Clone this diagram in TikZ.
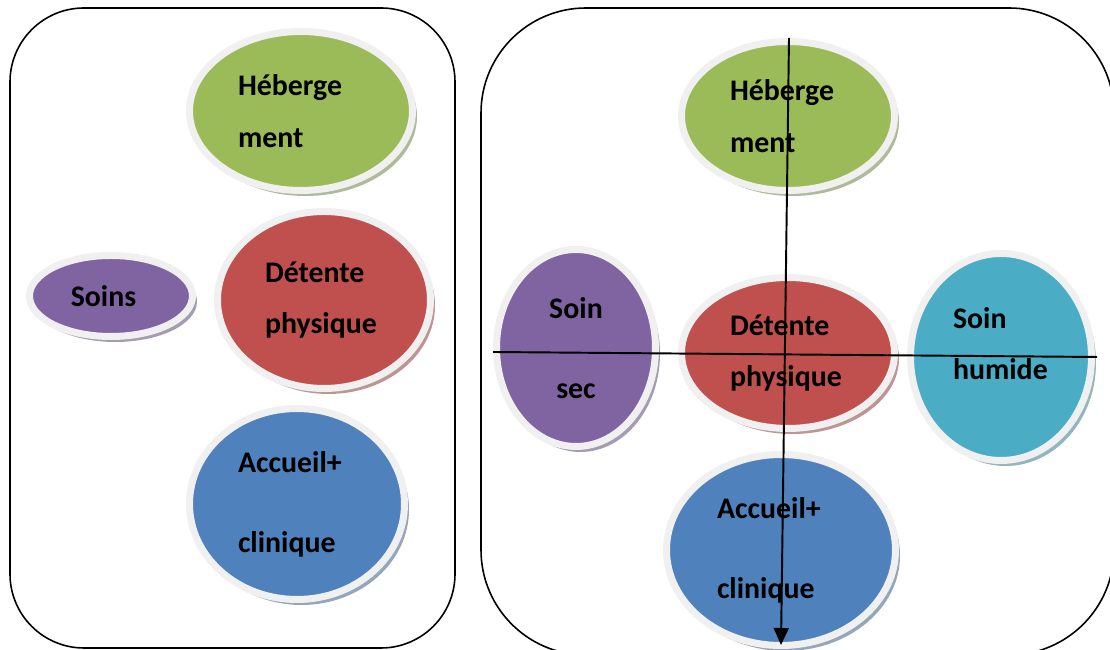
\documentclass[tikz,border=0pt]{standalone}
\usepackage{fontspec}
\setmainfont{Carlito}
\usetikzlibrary{arrows.meta,shapes.geometric,shadows}
\definecolor{vertclair}{HTML}{9BBB59}
\definecolor{rougebrique}{HTML}{C0504D}
\definecolor{mauve}{HTML}{8064A2}
\definecolor{cyanfonce}{HTML}{4BACC6}
\definecolor{bleuacier}{HTML}{4F81BD}
\tikzset{
  cadre/.style={draw=black, line width=0.9pt, rounded corners=#1},
  bulle/.style={ellipse, fill=#1, draw=black!6, line width=0.14cm, inner sep=0pt, align=left,
    font=\fontsize{17}{29.5}\selectfont\bfseries,
    drop shadow={shadow xshift=0.09cm, shadow yshift=-0.11cm, fill=#1!50!gray, opacity=0.7}},
  axe/.style={draw=black, line width=1.1pt}
}

\begin{document}
\begin{tikzpicture}
  \useasboundingbox (0,0) rectangle (22.2,13);
  % les deux cadres
  \draw[cadre=1.48cm] (0.2,0.04) rectangle (9.1,12.84);
  \draw[cadre=2.1cm] (9.62,-0.1) rectangle (22.28,12.84);

  % cadre de gauche
  \node[bulle=vertclair, minimum width=4.46cm, minimum height=3.18cm, text width=2.52cm] (hebG) at (6.02,10.78) {Héberge\\ment};
  \node[bulle=mauve, minimum width=3.26cm, minimum height=1.62cm, align=center] (soinsG) at (2.22,7.08) {Soins\hspace*{0.3cm}};
  \node[bulle=rougebrique, minimum width=4.26cm, minimum height=3.54cm, text width=2.36cm] (detG) at (6.48,7.0) {Détente\\physique};
  \node[bulle=bleuacier, minimum width=4.30cm, minimum height=3.82cm, text width=2.36cm] (accG) at (5.94,2.92) {Accueil+\\[0.56cm]clinique};

  % cadre de droite
  \node[bulle=vertclair, minimum width=4.26cm, minimum height=2.98cm, text width=2.32cm] (hebD) at (15.76,10.68) {Héberge\\ment};
  \node[bulle=mauve, minimum width=3.18cm, minimum height=3.94cm, align=center] (secD) at (11.52,6.04) {Soin\\[0.56cm]sec};
  \node[bulle=rougebrique, minimum width=4.26cm, minimum height=3.02cm, text width=2.32cm] (detD) at (15.76,5.94) {Détente\\physique};
  \node[bulle=cyanfonce, minimum width=3.62cm, minimum height=4.14cm, text width=1.92cm] (humD) at (20.02,5.86) {Soin\\humide\\[-0.5cm]\mbox{}};
  \node[bulle=bleuacier, minimum width=4.58cm, minimum height=3.82cm, text width=2.56cm] (accD) at (15.62,2.0) {Accueil+\\[0.56cm]clinique};

  % axes
  \coordinate (axeH) at (15.78,12.24);
  \coordinate (axeB) at (15.62,0.10);
  \coordinate (axeG) at (9.86,5.96);
  \coordinate (axeD) at (21.94,5.86);
  \draw[axe,-{Triangle[length=0.34cm,width=0.30cm]}] (axeH) -- (axeB);
  \draw[axe] (axeG) -- (axeD);
\end{tikzpicture}
\end{document}
